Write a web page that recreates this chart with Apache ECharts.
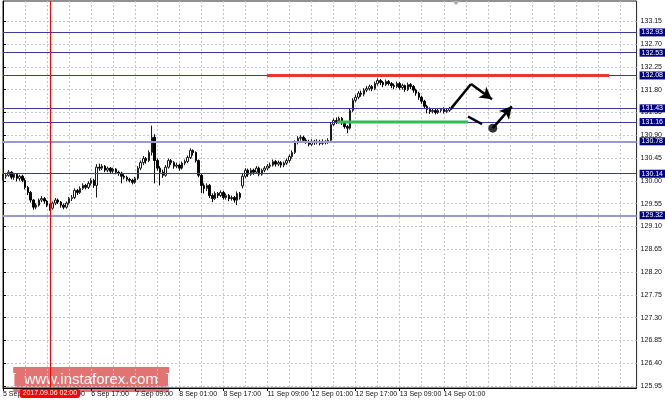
<!DOCTYPE html>
<html>
<head>
<meta charset="utf-8">
<script src="https://cdn.jsdelivr.net/npm/echarts@6/dist/echarts.min.js"></script>
<style>html,body{margin:0;padding:0;background:#fff}#c{width:665px;height:403px}</style>
</head>
<body>
<div id="c"></div>
<script>
// ---- data (USD/JPY H1) ----
var startTime = '2017-09-05T09:00Z';
var categoryCount = 231;
var labelEvery = 16;
var lastLabelIndex = 160;
var gridEvery = 8;
var opens = [130.05,130.09,130.11,130.17,130.07,130.13,130.05,130.09,130.01,129.87,129.77,129.62,129.48,129.52,129.62,129.65,129.60,129.52,129.46,129.56,
129.62,129.58,129.52,129.48,129.56,129.65,129.67,129.81,129.77,129.85,129.91,129.87,129.95,130.01,129.91,130.27,130.25,130.29,130.21,130.25,
130.19,130.23,130.17,130.15,130.09,130.07,130.03,130.01,129.97,130.05,130.25,130.36,130.44,130.40,130.56,130.86,130.40,130.25,130.17,130.11,
130.27,130.40,130.36,130.29,130.31,130.25,130.35,130.38,130.46,130.60,130.56,130.40,130.11,129.91,129.85,129.91,129.71,129.65,129.75,129.71,
129.77,129.67,129.71,129.65,129.67,129.62,129.75,129.90,130.09,130.21,130.13,130.21,130.17,130.25,130.13,130.21,130.25,130.29,130.31,130.38,
130.33,130.36,130.31,130.35,130.40,130.48,130.56,130.76,130.84,130.86,130.80,130.78,130.72,130.78,130.76,130.78,130.74,130.78,130.76,130.80,
131.11,131.19,131.17,131.23,131.15,131.07,131.04,131.39,131.59,131.65,131.73,131.71,131.79,131.82,131.86,131.82,131.92,131.98,131.94,131.90,
131.96,131.92,131.88,131.86,131.92,131.84,131.88,131.80,131.90,131.86,131.79,131.73,131.65,131.57,131.47,131.41,131.37,131.39,131.35,131.39,
131.41,131.37,131.39,131.43];
var closes = [130.09,130.11,130.17,130.07,130.13,130.05,130.09,130.01,129.87,129.77,129.62,129.48,129.52,129.62,129.65,129.60,129.52,129.46,129.56,129.62,
129.58,129.52,129.48,129.56,129.65,129.67,129.81,129.77,129.85,129.91,129.87,129.95,130.01,129.91,130.27,130.25,130.29,130.21,130.25,130.19,
130.23,130.17,130.15,130.09,130.07,130.03,130.01,129.97,130.05,130.25,130.36,130.44,130.40,130.56,130.86,130.40,130.25,130.17,130.11,130.27,
130.40,130.36,130.29,130.31,130.25,130.35,130.38,130.46,130.60,130.56,130.40,130.11,129.91,129.85,129.91,129.71,129.65,129.75,129.71,129.77,
129.67,129.71,129.65,129.67,129.62,129.75,129.67,130.09,130.21,130.13,130.21,130.17,130.25,130.13,130.21,130.25,130.29,130.31,130.38,130.33,
130.36,130.31,130.35,130.40,130.48,130.56,130.76,130.84,130.86,130.80,130.78,130.72,130.78,130.76,130.78,130.74,130.78,130.76,130.80,131.11,
131.19,131.17,131.23,131.15,131.07,131.04,131.39,131.59,131.65,131.73,131.71,131.79,131.82,131.86,131.82,131.92,131.98,131.94,131.90,131.96,
131.92,131.88,131.86,131.92,131.84,131.88,131.80,131.90,131.86,131.79,131.73,131.65,131.57,131.47,131.41,131.37,131.39,131.35,131.39,131.41,
131.37,131.39,131.43,131.45];
var lows = [130.01,130.04,130.08,130.03,130.02,129.99,130.00,129.97,129.83,129.72,129.57,129.43,129.44,129.49,129.58,129.55,129.48,129.41,129.43,129.52,
129.54,129.47,129.44,129.45,129.53,129.60,129.64,129.72,129.74,129.82,129.83,129.84,129.91,129.86,129.67,130.20,130.21,130.17,130.17,130.15,
130.14,130.13,130.10,129.95,130.03,129.99,129.97,129.93,129.94,130.02,130.21,130.31,130.34,130.37,130.50,129.95,130.20,129.91,130.06,130.08,
130.24,130.31,130.24,130.25,130.20,130.22,130.31,130.35,130.43,130.50,130.36,130.07,129.76,129.75,129.80,129.66,129.58,129.62,129.66,129.68,
129.63,129.63,129.60,129.61,129.57,129.52,129.63,129.85,130.05,130.08,130.10,130.12,130.14,130.09,130.10,130.17,130.21,130.25,130.28,130.28,
130.29,130.26,130.27,130.31,130.36,130.44,130.53,130.72,130.79,130.75,130.73,130.68,130.69,130.71,130.72,130.70,130.71,130.72,130.73,130.78,
131.08,131.12,131.13,131.10,131.03,130.94,131.01,131.36,131.55,131.61,131.66,131.67,131.75,131.78,131.77,131.79,131.88,131.89,131.85,131.87,
131.88,131.83,131.81,131.83,131.80,131.80,131.76,131.77,131.81,131.74,131.68,131.60,131.52,131.42,131.33,131.32,131.33,131.31,131.32,131.35,
131.33,131.34,131.36,131.40];
var highs = [130.14,130.16,130.21,130.19,130.16,130.15,130.12,130.12,130.05,129.90,129.80,129.64,129.56,129.65,129.70,129.68,129.62,129.55,129.59,129.66,
129.65,129.60,129.55,129.59,129.68,129.72,129.85,129.84,129.89,129.95,129.94,129.99,130.05,130.04,130.33,130.34,130.33,130.31,130.28,130.27,
130.26,130.25,130.20,130.18,130.13,130.10,130.06,130.04,130.08,130.29,130.40,130.49,130.47,130.60,131.09,130.92,130.44,130.29,130.22,130.31,
130.44,130.43,130.39,130.36,130.34,130.38,130.42,130.50,130.64,130.62,130.58,130.42,130.14,129.95,129.95,129.94,129.75,129.79,129.78,129.81,
129.80,129.75,129.74,129.71,129.70,129.79,129.78,130.15,130.25,130.24,130.25,130.24,130.29,130.28,130.24,130.29,130.33,130.36,130.42,130.41,
130.40,130.39,130.38,130.44,130.52,130.60,130.80,130.88,130.90,130.89,130.84,130.81,130.82,130.81,130.82,130.81,130.82,130.80,130.84,131.15,
131.23,131.25,131.27,131.26,131.18,131.10,131.43,131.63,131.70,131.77,131.78,131.83,131.87,131.90,131.89,131.96,132.02,132.01,131.97,132.00,
131.99,131.95,131.92,131.96,131.95,131.92,131.90,131.94,131.93,131.89,131.82,131.76,131.68,131.60,131.50,131.45,131.43,131.42,131.43,131.44,
131.45,131.43,131.46,131.48];
var yTicks = [125.95,126.40,126.85,127.30,127.75,128.20,128.65,129.10,129.55,130.00,130.45,130.90,131.35,131.80,132.25,132.70,133.15];
var darkLevels = [132.93,132.53,132.08,131.43,131.16,130.14];
var lightLevels = [130.78,129.32];
var crosshairIndex = 17;
var crosshairLabel = '2017.09.06 02:00';
// annotations in (bar index, price)
var resistanceLine = [[95.8,132.08],[220,132.08]];
var supportLine = [[121.3,131.16],[168.8,131.16]];
var upPath = [[162.7,131.43],[169.9,131.91]];
var upArrow = [[169.9,131.91],[177.5,131.61]];
var downPath = [[168.8,131.27],[173.9,131.12]];
var dotPoint = [[177.8,131.04]];
var downArrow = [[177.8,131.04],[184.7,131.47]];

// ---- categories (hourly, weekend skipped) ----
var months = ['Jan','Feb','Mar','Apr','May','Jun','Jul','Aug','Sep','Oct','Nov','Dec'];
var categories = [];
var t = new Date(startTime).getTime();
while (categories.length < categoryCount) {
  var d = new Date(t);
  var wd = d.getUTCDay();
  if (wd !== 0 && wd !== 6) {
    var hh = ('0' + d.getUTCHours()).slice(-2);
    categories.push(d.getUTCDate() + ' ' + months[d.getUTCMonth()] + ' ' + hh + ':00');
  }
  t += 3600000;
}
var candles = opens.map(function (o, i) { return [o, closes[i], lows[i], highs[i]]; });

var FONT = 'Liberation Sans';
var levelData = darkLevels.map(function (v) {
  return { yAxis: v, lineStyle: { color: '#3a3aa0', width: 1, type: 'solid' } };
}).concat(lightLevels.map(function (v) {
  return { yAxis: v, lineStyle: { color: '#9a9ad2', width: 2, type: 'solid' } };
}));

function seg(p, arrow) {
  return [{ coord: p[0], symbol: 'none' }, { coord: p[1], symbol: arrow ? 'arrow' : 'none' }];
}

var chart = echarts.init(document.getElementById('c'), null, { renderer: 'canvas' });
chart.setOption({
  animation: false,
  backgroundColor: '#ffffff',
  axisPointer: { triggerOn: 'none' },
  grid: { left: -2, right: 28, top: 1, bottom: 15, show: true, borderColor: '#222', borderWidth: 1, backgroundColor: '#fff' },
  xAxis: [{
    type: 'category',
    data: categories,
    boundaryGap: false,
    axisLine: { lineStyle: { color: '#000', width: 1 } },
    axisTick: { show: true, length: 3, interval: function (i) { return i % labelEvery === 0 && i <= lastLabelIndex; }, lineStyle: { color: '#000' } },
    axisLabel: { show: true, interval: function (i) { return i % labelEvery === 0 && i <= lastLabelIndex; },
      align: 'left', margin: 3, fontSize: 7, fontFamily: FONT, color: '#111' },
    splitLine: { show: true, interval: function (i) { return i % gridEvery === 0; }, lineStyle: { color: '#c8c8c8', type: [2, 2], width: 1 } },
    axisPointer: { show: true, type: 'line', value: crosshairIndex, status: 'show', triggerTooltip: false,
      lineStyle: { color: '#ff0000', width: 1, type: 'solid' },
      label: { show: true, formatter: crosshairLabel, backgroundColor: '#ff0000', color: '#ffffff', fontSize: 7, fontFamily: FONT, padding: [1, 3, 1, 3], margin: 1 },
      handle: { show: false } }
  }, {
    type: 'value', min: 0, max: categoryCount - 1, show: false
  }],
  yAxis: {
    type: 'value', position: 'right', min: 125.91, max: 133.55, scale: true,
    axisLine: { show: true, lineStyle: { color: '#000' } },
    axisTick: { show: true, length: 3, customValues: yTicks, lineStyle: { color: '#000' } },
    axisLabel: { customValues: yTicks, margin: 4, fontSize: 7, fontFamily: FONT, color: '#111', formatter: function (v) { return v.toFixed(2); } },
    splitLine: { show: true, lineStyle: { color: '#c8c8c8', type: [2, 2], width: 1 } }
  },
  series: [{
    type: 'candlestick',
    data: candles,
    barWidth: 2,
    itemStyle: { color: '#ffffff', color0: '#000000', borderColor: '#1a1a1a', borderColor0: '#000000', borderWidth: 1 },
    markLine: {
      silent: true, symbol: 'none', animation: false,
      label: { show: true, position: 'end', distance: 3, formatter: function (p) { return p.value.toFixed(2); },
        backgroundColor: '#000080', color: '#ffffff', fontSize: 7, fontFamily: FONT, padding: [1, 2, 0, 2] },
      data: levelData
    },
    z: 3
  }, {
    type: 'line', xAxisIndex: 1, data: resistanceLine, symbol: 'none', lineStyle: { color: '#ee3333', width: 3 }, z: 5, silent: true
  }, {
    type: 'line', xAxisIndex: 1, data: supportLine, symbol: 'none', lineStyle: { color: '#33bb55', width: 3 }, z: 5, silent: true
  }, {
    type: 'scatter', xAxisIndex: 1, data: dotPoint, symbolSize: 9, itemStyle: { color: '#000' }, z: 6, silent: true,
    markLine: {
      silent: true, symbolSize: [10, 12], label: { show: false },
      lineStyle: { color: '#000', width: 2.5, type: 'solid' },
      data: [seg(upPath, false), seg(upArrow, true), seg(downPath, false), seg(downArrow, true)]
    }
  }],
  graphic: [{
    type: 'polygon', shape: { points: [[452, 1], [460, 1], [456, 5]] }, style: { fill: '#b0b0b0' }, z: 50
  }, {
    type: 'group', left: 12, top: 367, z: 100,
    children: [{
      type: 'rect', shape: { x: 0, y: 0, width: 156, height: 25 }, style: { fill: 'rgba(218,84,84,0.82)' }
    }, {
      type: 'text', x: 78, y: 13, style: { text: '[  www.instaforex.com  ]', fill: '#ffffff', font: '15px "Liberation Sans", Arial, sans-serif', align: 'center', verticalAlign: 'middle' }
    }]
  }]
});
</script>
</body>
</html>
